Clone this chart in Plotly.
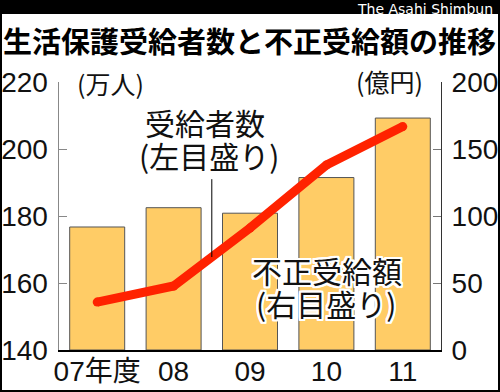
import plotly.graph_objects as go

years = ["07年度", "08", "09", "10", "11"]
recipients = [154.3, 159.1, 176.4, 195.2, 206.7]      # 受給者数 (万人, left axis)
fraud_amount = [91.8, 106.2, 102.1, 128.7, 173.1]     # 不正受給額 (億円, right axis)
left_ticks = [140, 160, 180, 200, 220]
right_ticks = [0, 50, 100, 150, 200]

W, H = 500, 392
L, R, T, B = 59, 59, 82, 42
PW, PH = W - L - R, H - T - B

def px(x):
    return (x - L) / PW

def py(y):
    return (H - B - y) / PH

NUM_FONT = "Liberation Sans, Arial, sans-serif"
JP_FONT = "Noto Sans CJK JP, sans-serif"

fig = go.Figure()
fig.add_trace(go.Bar(
    x=years, y=fraud_amount, yaxis="y",
    marker=dict(color="#FFCC66", line=dict(color="#555555", width=1)),
    hoverinfo="skip", showlegend=False,
))
fig.add_trace(go.Scatter(
    x=years, y=recipients, yaxis="y2", mode="lines+markers",
    line=dict(color="#FF2200", width=9),
    marker=dict(color="#FF2200", size=9),
    hoverinfo="skip", showlegend=False,
))

shapes = [
    # black top bar
    dict(type="rect", xref="paper", yref="paper", x0=px(0), x1=px(W), y0=py(0), y1=py(14),
         fillcolor="black", line=dict(width=0), layer="above"),
    # frame
    dict(type="rect", xref="paper", yref="paper", x0=px(1), x1=px(W - 1), y0=py(1), y1=py(H - 1),
         fillcolor="rgba(0,0,0,0)", line=dict(color="black", width=2), layer="above"),
    # pointer line for 受給者数
    dict(type="line", xref="x", yref="y2", x0=1.5, x1=1.5,
         y0=191, y1=(recipients[1] + recipients[2]) / 2,
         line=dict(color="black", width=1)),
]

outline = ", ".join(f"{dx}px {dy}px 0 #fff" for dx in (-2, -1, 0, 1, 2) for dy in (-2, -1, 0, 1, 2) if dx or dy)

annotations = [
    dict(text="The Asahi Shimbun", xref="paper", yref="paper", x=px(494), y=py(0),
         xanchor="right", yanchor="top", showarrow=False, borderpad=0,
         font=dict(family="DejaVu Sans, sans-serif", size=14, color="white")),
    dict(text="<b>生活保護受給者数と不正受給額の推移</b>", xref="paper", yref="paper",
         x=px(249), y=py(40), xanchor="center", yanchor="middle", showarrow=False,
         font=dict(family=JP_FONT, size=29, color="black")),
    dict(text="(万人)", xref="paper", yref="paper", x=px(110), y=py(83),
         xanchor="center", yanchor="middle", showarrow=False,
         font=dict(family=JP_FONT, size=25, color="#111")),
    dict(text="(億円)", xref="paper", yref="paper", x=px(389), y=py(81),
         xanchor="center", yanchor="middle", showarrow=False,
         font=dict(family=JP_FONT, size=25, color="#111")),
    dict(text="受給者数", xref="paper", yref="paper", x=px(205), y=py(122),
         xanchor="center", yanchor="middle", showarrow=False,
         font=dict(family=JP_FONT, size=30, color="#111")),
    dict(text="(左目盛り)", xref="paper", yref="paper", x=px(209), y=py(155),
         xanchor="center", yanchor="middle", showarrow=False,
         font=dict(family=JP_FONT, size=30, color="#111")),
    dict(text="不正受給額", xref="paper", yref="paper", x=px(327), y=py(270),
         xanchor="center", yanchor="middle", showarrow=False,
         font=dict(family=JP_FONT, size=30, color="#111", shadow=outline)),
    dict(text="(右目盛り)", xref="paper", yref="paper", x=px(326), y=py(303),
         xanchor="center", yanchor="middle", showarrow=False,
         font=dict(family=JP_FONT, size=30, color="#111", shadow=outline)),
]

fig.update_layout(
    width=W, height=H,
    margin=dict(l=L, r=R, t=T, b=B, pad=0, autoexpand=False),
    paper_bgcolor="white", plot_bgcolor="white",
    bargap=0.28,
    xaxis=dict(type="category", range=[-0.5, 4.5], showline=True, linecolor="black", linewidth=1.5,
               ticks="", showgrid=False, zeroline=False, tickangle=0, automargin=False,
               ticklabelstandoff=-4,
               tickfont=dict(family=NUM_FONT + ", " + JP_FONT, size=28, color="#111")),
    yaxis=dict(side="right", range=[0, 200], tickvals=right_ticks, ticks="inside", ticklen=8,
               tickcolor="#777", showline=True, linecolor="#333", linewidth=1,
               showgrid=False, zeroline=False, ticklabelstandoff=4, automargin=False,
               tickfont=dict(family=NUM_FONT, size=28, color="#111")),
    yaxis2=dict(side="left", overlaying="y", range=[140, 220], tickvals=left_ticks, ticks="inside",
                ticklen=8, tickcolor="#888", showline=True, linecolor="#888", linewidth=1.5,
                showgrid=False, zeroline=False, ticklabelstandoff=4, automargin=False,
                tickfont=dict(family=NUM_FONT, size=28, color="#111")),
    shapes=shapes,
    annotations=annotations,
)

fig.write_html("out.html", config={"displayModeBar": False, "staticPlot": True},
               post_script="document.body.style.margin='0';")
